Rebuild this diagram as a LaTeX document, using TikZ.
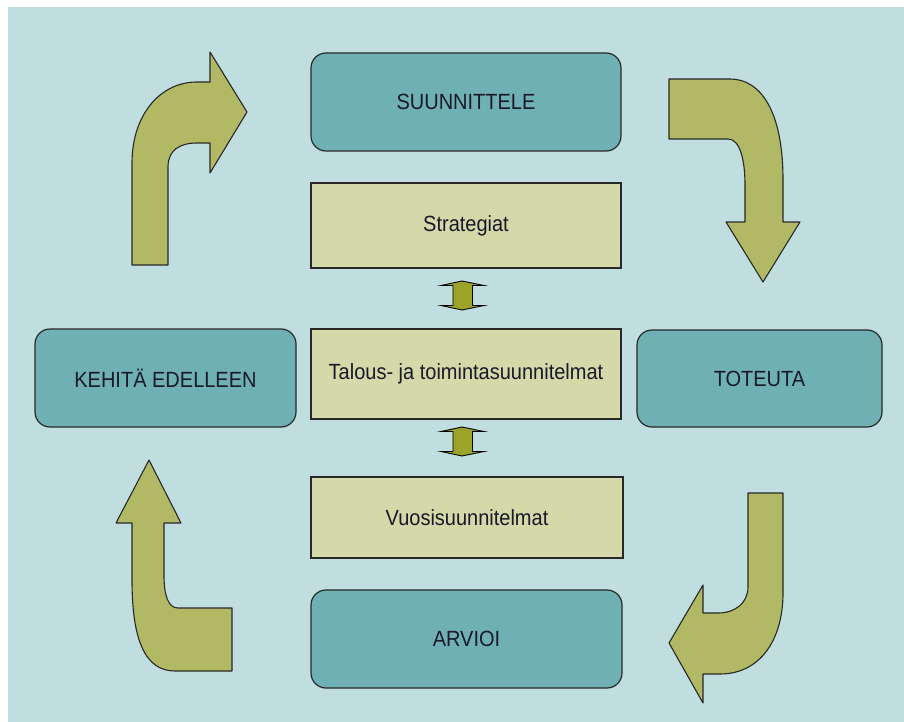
\documentclass[tikz,border=0pt]{standalone}
\usepackage{fontspec}
\setmainfont{Liberation Sans}
\definecolor{bgc}{RGB}{192,222,223}
\definecolor{tealc}{RGB}{110,176,180}
\definecolor{yelc}{RGB}{213,217,169}
\definecolor{olivec}{RGB}{177,185,100}
\definecolor{darkolive}{RGB}{155,163,40}
\definecolor{edgec}{RGB}{40,40,40}
\definecolor{textc}{RGB}{25,25,40}
\newcommand{\lbl}[1]{\scalebox{1}[1.1]{#1}}
\begin{document}
\begin{tikzpicture}[x=1pt,y=-1pt,
  every node/.style={font=\fontsize{20}{24}\selectfont, text=textc},
  tealbox/.style={draw=edgec, line width=1.2pt, fill=tealc, rounded corners=15pt, rectangle, inner sep=0pt},
  yelbox/.style={draw=edgec, line width=1.2pt, fill=yelc, rectangle, inner sep=0pt},
  bigarrow/.style={draw=edgec, line width=1.1pt, fill=olivec, line join=round},
  smallarrow/.style={draw=black, line width=0.9pt, fill=darkolive, line join=miter}
]
\useasboundingbox (0,0) rectangle (904,722);
\fill[bgc] (8,7) rectangle (904,722);

% central column
\node[tealbox, minimum width=310pt, minimum height=98pt] (plan) at (466,102) {\lbl{SUUNNITTELE}\hspace{10pt}};
\node[yelbox, minimum width=310pt, minimum height=85pt] (strat) at (466,225.5) {\lbl{Strategiat}};
\node[yelbox, minimum width=310pt, minimum height=90pt] (talous) at (466,374) {\lbl{Talous- ja toimintasuunnitelmat}};
\node[yelbox, minimum width=312pt, minimum height=81pt] (vuosi) at (467,517.5) {\lbl{Vuosisuunnitelmat}};
\node[tealbox, minimum width=311pt, minimum height=98pt] (arvioi) at (466.5,639) {\lbl{ARVIOI}\hspace{10pt}};
% side boxes
\node[tealbox, minimum width=261pt, minimum height=98pt] (kehita) at (165.5,378) {\lbl{KEHITÄ EDELLEEN}\hspace{10pt}};
\node[tealbox, minimum width=245pt, minimum height=97pt] (toteuta) at (759.5,378.5) {\lbl{TOTEUTA}};

% small double arrows
\draw[smallarrow] (462,281) -- (484,285.5) -- (472.5,285.5) -- (472.5,305.5) -- (484,305.5) -- (462,310) -- (441,305.5) -- (453,305.5) -- (453,285.5) -- (441,285.5) -- cycle;
\draw[smallarrow] (462,427) -- (484,431.5) -- (472.5,431.5) -- (472.5,451.5) -- (484,451.5) -- (462,456) -- (441,451.5) -- (453,451.5) -- (453,431.5) -- (441,431.5) -- cycle;

% top-left curved arrow
\draw[bigarrow] (132,265) -- (132,163) .. controls (132,115) and (160,82) .. (197,82) -- (210,82) -- (210,52) -- (247,112) -- (210,173) -- (210,143) -- (197,143) .. controls (180,143) and (168,150) .. (168,167) -- (168,265) -- cycle;

% top-right curved arrow
\draw[bigarrow] (669,79) -- (730,79) .. controls (760,79) and (783,110) .. (783,180) -- (783,222) -- (800,222) -- (763,282) -- (726,222) -- (745,222) -- (745,185) .. controls (745,160) and (740,139) .. (728,139) -- (669,139) -- cycle;

% bottom-right curved arrow
\draw[bigarrow] (748,493) -- (783,493) -- (783,593) .. controls (783,640) and (760,674) .. (720,674) -- (703,674) -- (703,703) -- (669,643) -- (703,585) -- (703,613) -- (718,613) .. controls (735,613) and (748,603) .. (748,587) -- cycle;

% bottom-left curved arrow
\draw[bigarrow] (149,460) -- (181,523) -- (164,523) -- (164,575) .. controls (164,595) and (168,608) .. (178,608) -- (232,608) -- (232,671) -- (175,671) .. controls (145,671) and (132,640) .. (132,580) -- (132,523) -- (116,523) -- cycle;
\end{tikzpicture}
\end{document}
